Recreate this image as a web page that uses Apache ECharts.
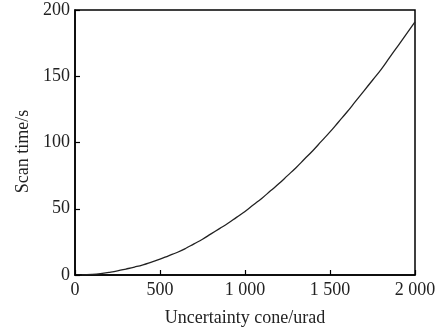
<!DOCTYPE html>
<html><head><meta charset="utf-8">
<script src="https://cdn.jsdelivr.net/npm/echarts@6/dist/echarts.min.js"></script>
<style>html,body{margin:0;padding:0;background:#fff}#c{width:440px;height:332px}</style>
</head><body><div id="c"></div>
<script>
var xValues = [40, 100, 150, 200, 250, 300, 350, 400, 450, 500, 550, 600, 650, 700, 750, 800, 850, 900, 950, 1000, 1050, 1100, 1150, 1200, 1250, 1300, 1350, 1400, 1450, 1500, 1550, 1600, 1650, 1700, 1750, 1800, 1850, 1900, 1950, 2000];
var scanTime = [0.1, 0.5, 1.1, 2, 3.1, 4.5, 6, 7.7, 9.8, 12, 14.5, 17, 20, 23.5, 27, 31, 35, 39, 43.5, 48, 53, 58, 63.5, 69, 75, 81, 87.5, 94, 101, 108, 115.5, 123, 131, 139, 147, 155, 164, 173, 182, 191];
var xTicks = ['0', '500', '1 000', '1 500', '2 000'];
var yTicks = ['0', '50', '100', '150', '200'];

var data = xValues.map(function (x, i) { return [x, scanTime[i]]; });
var chart = echarts.init(document.getElementById('c'), null, {renderer: 'canvas'});
var font = '"Liberation Serif", "DejaVu Serif", serif';
chart.setOption({
  animation: false,
  grid: {left: 75, right: 25, top: 10, bottom: 56, show: true, borderColor: '#000', borderWidth: 1.5},
  xAxis: {
    type: 'value', min: 0, max: 2000, interval: 500,
    name: 'Uncertainty cone/urad', nameLocation: 'middle', nameGap: 34,
    nameTextStyle: {fontFamily: font, fontSize: 18, color: '#222'},
    axisLine: {show: true, lineStyle: {color: '#000', width: 1.5}},
    axisTick: {show: true, inside: true, length: 5, lineStyle: {color: '#000', width: 1.2}},
    axisLabel: {fontFamily: font, fontSize: 18, color: '#222', margin: 6,
      formatter: function (v) { return xTicks[Math.round(v / 500)]; }},
    splitLine: {show: false}
  },
  yAxis: {
    type: 'value', min: 0, max: 200, interval: 50,
    name: 'Scan time/s', nameLocation: 'middle', nameGap: 41, nameRotate: 90,
    nameTextStyle: {fontFamily: font, fontSize: 18, color: '#222', padding: [0, 18, 0, 0]},
    axisLine: {show: true, lineStyle: {color: '#000', width: 1.5}},
    axisTick: {show: true, inside: true, length: 5, lineStyle: {color: '#000', width: 1.2}},
    axisLabel: {fontFamily: font, fontSize: 18, color: '#222', margin: 5,
      formatter: function (v) { return yTicks[Math.round(v / 50)]; }},
    splitLine: {show: false}
  },
  series: [{
    type: 'line', data: data, showSymbol: false, smooth: true,
    lineStyle: {color: '#222', width: 1.3}
  }]
});
</script></body></html>
